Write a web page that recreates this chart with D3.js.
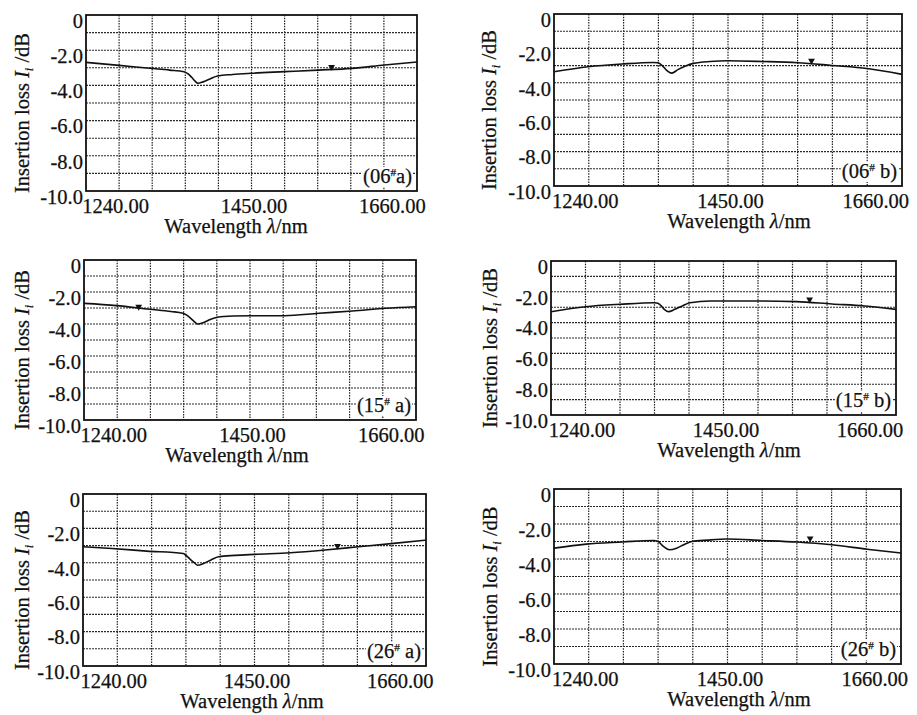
<!DOCTYPE html>
<html>
<head>
<meta charset="utf-8">
<script src="https://cdn.jsdelivr.net/npm/d3@7"></script>
<style>
    body { margin: 0; background: #fff; }
    svg text { font-family: "Liberation Serif", "DejaVu Serif", serif; fill: #111; stroke: #111; stroke-width: 0.25px; }
</style>
</head>
<body>
<svg id="chart" width="917" height="715"></svg>
<script>
'use strict';

// x range of the analyser screen, 10 divisions of 52.5 nm
const X_DOMAIN = [1187.5, 1712.5];
const Y_DOMAIN = [-10, 0];
const X_LABELS = [1240, 1450, 1660];
const Y_LABELS = [0, -2, -4, -6, -8, -10];

// readings (wavelength nm, insertion loss dB)
const wl06a = [1187.5, 1240, 1289, 1320, 1343, 1350, 1355, 1360, 1365, 1373, 1385, 1396, 1420, 1449, 1502, 1556, 1609, 1661, 1712.5];
const il06a = [-2.69, -2.86, -3.03, -3.13, -3.22, -3.36, -3.54, -3.74, -3.88, -3.80, -3.62, -3.47, -3.38, -3.31, -3.22, -3.13, -3.03, -2.84, -2.67];

const wl06b = [1187.5, 1239, 1290, 1337, 1344, 1350, 1357, 1365, 1375, 1386, 1398, 1423, 1450, 1502, 1555, 1607, 1660, 1712.5];
const il06b = [-3.36, -3.07, -2.91, -2.82, -2.83, -2.97, -3.26, -3.44, -3.22, -3.02, -2.87, -2.76, -2.72, -2.76, -2.83, -2.99, -3.17, -3.51];

const wl15a = [1187.5, 1239, 1291, 1325, 1344, 1350, 1355, 1361, 1367, 1376, 1387, 1398, 1423, 1452, 1505, 1559, 1612, 1665, 1712.5];
const il15a = [-2.71, -2.85, -3.08, -3.22, -3.33, -3.45, -3.60, -3.82, -4.00, -3.92, -3.72, -3.58, -3.50, -3.48, -3.48, -3.33, -3.19, -3.02, -2.92];

const wl15b = [1187.5, 1240, 1293, 1345, 1350, 1354, 1360, 1366, 1376, 1388, 1399, 1430, 1455, 1508, 1561, 1615, 1665, 1712.5];
const il15b = [-3.29, -2.97, -2.81, -2.71, -2.74, -2.86, -3.14, -3.29, -3.14, -2.90, -2.71, -2.60, -2.60, -2.60, -2.64, -2.79, -2.92, -3.14];

const wl26a = [1187.5, 1232, 1285, 1341, 1346, 1352, 1358, 1363, 1372, 1384, 1395, 1420, 1451, 1505, 1558, 1609, 1663, 1712.5];
const il26a = [-3.07, -3.17, -3.32, -3.46, -3.60, -3.81, -4.00, -4.14, -4.04, -3.82, -3.65, -3.57, -3.51, -3.42, -3.26, -3.07, -2.87, -2.68];

const wl26b = [1187.5, 1236, 1291, 1338, 1345, 1353, 1362, 1373, 1384, 1396, 1420, 1449, 1502, 1555, 1608, 1661, 1712.5];
const il26b = [-3.38, -3.15, -3.03, -2.94, -3.00, -3.28, -3.47, -3.38, -3.18, -3.00, -2.92, -2.86, -2.94, -3.03, -3.19, -3.44, -3.66];

// marker readings [wavelength, loss]
const marker06a = [1577, -2.95];
const marker06b = [1576, -2.72];
const marker15a = [1274, -2.92];
const marker15b = [1581, -2.50];
const marker26a = [1577, -3.02];
const marker26b = [1575, -2.82];

// sample number and fibre end for the corner tag
const tags = [['06', 'a'], ['06', ' b'], ['15', ' a'], ['15', ' b'], ['26', ' a'], ['26', ' b']];

//#region LAYOUT
const panels = [
    {wl: wl06a, il: il06a, mk: marker06a, box: [86, 417, 15, 191], labX: 22, titleX: 236},
    {wl: wl06b, il: il06b, mk: marker06b, box: [554, 902, 14, 186], labX: 489, titleX: 739},
    {wl: wl15a, il: il15a, mk: marker15a, box: [84, 416, 260, 420], labX: 22, titleX: 237},
    {wl: wl15b, il: il15b, mk: marker15b, box: [551, 896, 261, 415], labX: 490, titleX: 729},
    {wl: wl26a, il: il26a, mk: marker26a, box: [83, 426, 494, 666], labX: 22, titleX: 252},
    {wl: wl26b, il: il26b, mk: marker26b, box: [554, 901, 489, 664], labX: 490, titleX: 739},
];
//#endregion

const svg = d3.select('#chart');
const FONT = 20.5;
const SERIF = '"Liberation Serif", "DejaVu Serif", serif';

panels.forEach((p, k) => {
    const [left, right, top, bottom] = p.box;
    const x = d3.scaleLinear().domain(X_DOMAIN).range([left, right]);
    const y = d3.scaleLinear().domain(Y_DOMAIN).range([bottom, top]);
    const g = svg.append('g').attr('font-family', SERIF);

    //grid, one line per division
    const step = (X_DOMAIN[1] - X_DOMAIN[0]) / 10;
    const xGrid = d3.range(1, 10).map(i => X_DOMAIN[0] + i * step);
    const yGrid = d3.range(-9, 0);

    g.selectAll('.vgrid')
        .data(xGrid)
        .enter()
        .append('line')
        .attr('x1', d => x(d)).attr('x2', d => x(d))
        .attr('y1', top).attr('y2', bottom)
        .attr('stroke', '#222')
        .attr('stroke-width', 1.2)
        .attr('stroke-dasharray', '1.5,1.2');

    g.selectAll('.hgrid')
        .data(yGrid)
        .enter()
        .append('line')
        .attr('x1', left).attr('x2', right)
        .attr('y1', d => y(d)).attr('y2', d => y(d))
        .attr('stroke', '#2a2a2a')
        .attr('stroke-width', 1.1)
        .attr('stroke-dasharray', '2,1');

    //trace
    const pts = p.wl.map((w, i) => [w, p.il[i]]);
    const line = d3.line()
        .x(d => x(d[0]))
        .y(d => y(d[1]))
        .curve(d3.curveMonotoneX);
    g.append('path')
        .attr('d', line(pts))
        .attr('fill', 'none')
        .attr('stroke', '#111')
        .attr('stroke-width', 1.6);

    //marker (down triangle)
    g.append('path')
        .attr('d', d3.symbol().type(d3.symbolTriangle).size(20)())
        .attr('transform', `translate(${x(p.mk[0])},${y(p.mk[1])}) rotate(180)`)
        .attr('fill', '#111');

    //corner tag with white backing
    const [num, end] = tags[k];
    const tag = g.append('text')
        .attr('x', right - 5)
        .attr('y', bottom - 8)
        .attr('text-anchor', 'end')
        .attr('font-size', FONT);
    tag.append('tspan').text('(' + num);
    tag.append('tspan').text('#').attr('font-size', FONT * 0.55).attr('dy', -7);
    tag.append('tspan').text(end + ')').attr('dy', 7);
    const bb = tag.node().getBBox();
    g.insert('rect', 'text')
        .attr('x', bb.x - 1).attr('y', bb.y + 2)
        .attr('width', bb.width + 2).attr('height', bb.height - 3)
        .attr('fill', '#fff');

    //frame
    g.append('rect')
        .attr('x', left).attr('y', top)
        .attr('width', right - left).attr('height', bottom - top)
        .attr('fill', 'none')
        .attr('stroke', '#111')
        .attr('stroke-width', 1.8);

    //axes labels
    const yAxis = d3.axisLeft(y)
        .tickValues(Y_LABELS)
        .tickSize(0)
        .tickPadding(3)
        .tickFormat(d => d === 0 ? '0' : d.toFixed(1));
    const ya = g.append('g').attr('transform', `translate(${left},0)`).call(yAxis);
    ya.attr('font-family', SERIF);
    ya.select('.domain').remove();
    ya.selectAll('text')
        .attr('font-size', FONT)
        .attr('dy', '0.6em');

    const xAxis = d3.axisBottom(x)
        .tickValues(X_LABELS)
        .tickSize(0)
        .tickPadding(0)
        .tickFormat(d => d.toFixed(2));
    const xa = g.append('g').attr('transform', `translate(0,${bottom})`).call(xAxis);
    xa.attr('font-family', SERIF);
    xa.select('.domain').remove();
    xa.selectAll('text')
        .attr('font-size', FONT)
        .attr('y', 22)
        .attr('dy', 0)
        .attr('dx', d => -4 + (d - 1240) / 420 * 12);

    //x title
    const xt = g.append('text')
        .attr('x', p.titleX)
        .attr('y', bottom + 42)
        .attr('text-anchor', 'middle')
        .attr('font-size', FONT);
    xt.append('tspan').text('Wavelength ');
    xt.append('tspan').text('λ').attr('font-style', 'italic');
    xt.append('tspan').text('/nm');

    //y title
    const yt = g.append('text')
        .attr('transform', `translate(${p.labX + 7},${(top + bottom) / 2 + 10}) rotate(-90)`)
        .attr('text-anchor', 'middle')
        .attr('font-size', FONT);
    yt.append('tspan').text('Insertion loss ');
    yt.append('tspan').text('I').attr('font-style', 'italic');
    yt.append('tspan').text('i').attr('font-style', 'italic').attr('font-size', FONT * 0.6).attr('dy', 4);
    yt.append('tspan').text(' /dB').attr('dy', -4);
});
</script>
</body>
</html>
